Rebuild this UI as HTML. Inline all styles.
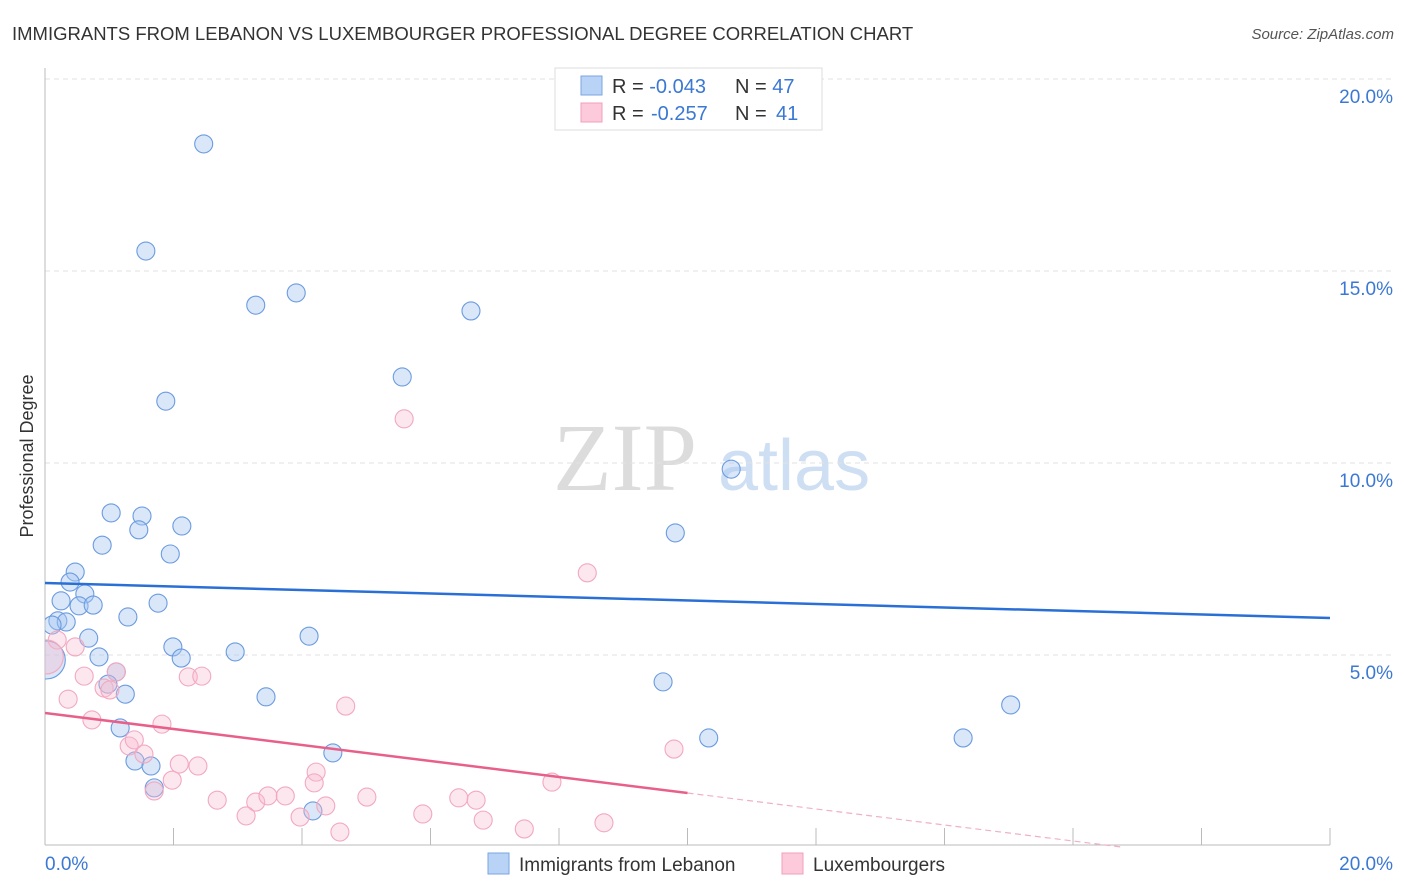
<!DOCTYPE html>
<html><head><meta charset="utf-8"><style>
body{margin:0;background:#fff;font-family:"Liberation Sans",sans-serif}
svg{display:block}
</style></head><body>
<svg id="chart" width="1406" height="892" xmlns="http://www.w3.org/2000/svg" font-family="Liberation Sans, sans-serif">
<defs><clipPath id="plotclip"><rect x="45" y="60" width="1360" height="790"/></clipPath></defs>
<text x="12" y="40" font-size="18.5" fill="#333">IMMIGRANTS FROM LEBANON VS LUXEMBOURGER PROFESSIONAL DEGREE CORRELATION CHART</text>
<text x="1394" y="39" font-size="15" fill="#555" text-anchor="end" font-style="italic">Source: ZipAtlas.com</text>
<g>
<text x="553" y="490" font-family="Liberation Serif, serif" font-size="96" fill="#dcdcdc">ZIP</text>
<text x="718" y="490" font-size="72" fill="#cfdff3">atlas</text>
</g>
<g id="grid"></g>
<g id="axes"></g>
<g id="marks" clip-path="url(#plotclip)"></g>
<text transform="translate(33,456) rotate(-90)" text-anchor="middle" font-size="18" fill="#333">Professional Degree</text>
<g>
<rect x="555" y="68" width="267" height="62" fill="#fff" stroke="#ddd"/>
<rect x="581" y="76" width="21" height="19" fill="#b8d3f5" stroke="#7aa6e0"/>
<rect x="581" y="103" width="21" height="19" fill="#fccadb" stroke="#f0a0b8"/>
<text x="612" y="93" font-size="20" fill="#333">R = <tspan fill="#3b78d4">-0.043</tspan><tspan x="735">N = </tspan><tspan fill="#3b78d4">47</tspan></text>
<text x="612" y="120" font-size="20" fill="#333">R = <tspan fill="#3b78d4" x="651">-0.257</tspan><tspan x="735">N = </tspan><tspan fill="#3b78d4" x="776">41</tspan></text>
</g>
<g>
<rect x="488" y="853" width="21" height="21" fill="#b8d3f5" stroke="#7aa6e0"/>
<text x="519" y="871" font-size="19" fill="#333">Immigrants from Lebanon</text>
<rect x="782" y="853" width="21" height="21" fill="#fccadb" stroke="#f0a0b8"/>
<text x="813" y="871" font-size="19" fill="#333">Luxembourgers</text>
</g>
</svg>
<script>
const yTicks=[5,10,15,20];
const yTickLabels=["5.0%","10.0%","15.0%","20.0%"];
const blueX=[2.47,1.57,3.28,3.91,6.63,5.56,1.88,10.68,1.03,1.51,2.13,1.46,0.89,1.95,9.81,0.47,0.39,0.62,0.25,0.53,0.75,1.76,1.29,0.20,0.33,0.11,4.11,0.68,1.99,2.96,2.12,0.84,1.11,0.98,1.25,3.44,9.62,15.03,1.17,10.33,14.29,4.48,1.40,1.65,1.70,4.17,0.02];
const blueY=[18.31,15.52,14.11,14.43,13.96,12.24,11.61,9.84,8.70,8.62,8.36,8.26,7.86,7.63,8.18,7.16,6.90,6.59,6.41,6.28,6.30,6.35,5.99,5.89,5.86,5.78,5.49,5.44,5.21,5.08,4.92,4.95,4.56,4.24,3.98,3.91,4.30,3.70,3.10,2.84,2.84,2.45,2.24,2.11,1.54,0.94,4.87];
const pinkX=[5.59,8.44,0.19,0.47,0.02,1.11,0.61,2.23,2.44,0.92,0.36,4.68,0.73,1.82,1.31,1.39,1.54,2.09,2.38,9.79,4.22,1.98,4.19,7.89,1.70,2.68,3.28,3.47,3.74,5.01,6.44,6.71,4.37,3.13,5.88,3.97,6.82,8.70,7.46,4.59,1.01];
const pinkY=[11.15,7.14,5.39,5.21,4.95,4.56,4.45,4.43,4.45,4.14,3.85,3.67,3.31,3.20,2.63,2.79,2.42,2.16,2.11,2.55,1.95,1.74,1.67,1.69,1.46,1.22,1.17,1.33,1.33,1.30,1.28,1.22,1.07,0.81,0.86,0.78,0.70,0.63,0.47,0.39,4.09];
const blueTrend=[6.875,5.964];
const pinkTrend=[3.49,-0.677];
const NS="http://www.w3.org/2000/svg";
const X=v=>45+v/20*1285, Y=v=>847-v/20*768;
function mk(tag,attrs,parent){const e=document.createElementNS(NS,tag);for(const k in attrs)e.setAttribute(k,attrs[k]);document.getElementById(parent).appendChild(e);return e;}
yTicks.forEach((t,i)=>{
 const g=mk('line',{x1:45,x2:1393,y1:Y(t),y2:Y(t),stroke:'#e2e2e2','stroke-dasharray':'5,4'},'grid');
 
 
 const l=mk('text',{x:1393,y:Y(t)+24,'text-anchor':'end','font-size':19,fill:'#3b78d4'},'axes');
 l.textContent=yTickLabels[i];
 
 
});
mk('line',{x1:45,x2:45,y1:68,y2:845,stroke:'#bbb'},'axes');
mk('line',{x1:45,x2:1330,y1:845,y2:845,stroke:'#bbb'},'axes');
for(let i=1;i<=10;i++){mk('line',{x1:X(i*2),x2:X(i*2),y1:828,y2:845,stroke:'#bbb'},'axes');}
const x0=mk('text',{x:45,y:870,'font-size':19,fill:'#3b78d4'},'axes');x0.textContent='0.0%';


const x1=mk('text',{x:1393,y:870,'font-size':19,fill:'#3b78d4','text-anchor':'end'},'axes');x1.textContent='20.0%';


const big=i=>i===(blueX.length-1);
blueX.forEach((v,i)=>{
 const c=mk('circle',{cx:X(v),cy:Y(blueY[i]),r:big(i)?19:9,fill:'rgba(165,198,240,0.42)',stroke:'#6b9be0','stroke-width':1.1},'marks');
 
 
});
pinkX.forEach((v,i)=>{
 const c=mk('circle',{cx:X(v),cy:Y(pinkY[i]),r:i===4?17:9,fill:'rgba(248,185,205,0.35)',stroke:'#f2a8c0','stroke-width':1.1},'marks');
 
 
});
const bl=mk('line',{x1:X(0),y1:Y(blueTrend[0]),x2:X(20),y2:Y(blueTrend[1]),stroke:'#2a6fd6','stroke-width':2.5},'marks');


const pv=x=>pinkTrend[0]+(pinkTrend[1]-pinkTrend[0])*x/20;
const pl=mk('line',{x1:X(0),y1:Y(pv(0)),x2:X(10),y2:Y(pv(10)),stroke:'#e8608a','stroke-width':2.5},'marks');


const xe=-pinkTrend[0]/(pinkTrend[1]-pinkTrend[0])*20;
const pd=mk('line',{x1:X(10),y1:Y(pv(10)),x2:X(xe),y2:Y(0),stroke:'#f0b0c4','stroke-width':1.2,'stroke-dasharray':'6,4'},'marks');


</script>
</body></html>
